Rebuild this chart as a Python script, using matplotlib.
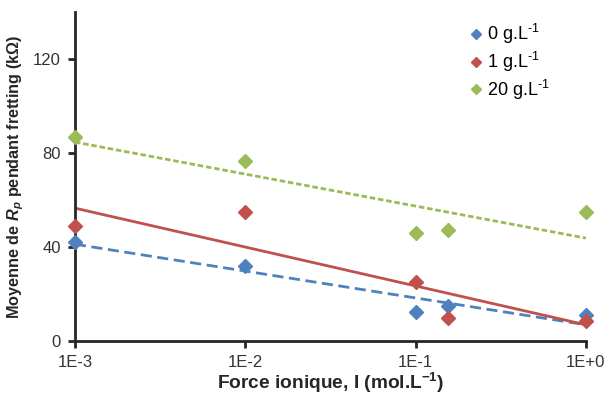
import numpy as np
import matplotlib
matplotlib.use('Agg')
import matplotlib.pyplot as plt

plt.rcParams['font.family'] = ['Liberation Sans', 'DejaVu Sans']
plt.rcParams['mathtext.fontset'] = 'custom'
plt.rcParams['mathtext.rm'] = 'Liberation Sans'
plt.rcParams['mathtext.it'] = 'Liberation Sans:italic:bold'
plt.rcParams['mathtext.bf'] = 'Liberation Sans:bold'

force = [1e-3, 1e-2, 1e-1, 0.156, 1.0]
rp_0 = [42, 32, 12.4, 15, 11]
rp_1 = [49, 54.7, 25, 10, 8.5]
rp_20 = [86.8, 76.5, 46, 47.4, 55]

series = [
    ('0 g.L$^{\\text{-1}}$', rp_0, '#4F81BD', (0, (4, 2))),
    ('1 g.L$^{\\text{-1}}$', rp_1, '#C0504D', '-'),
    ('20 g.L$^{\\text{-1}}$', rp_20, '#9BBB59', (0, (2, 1))),
]

fig = plt.figure(figsize=(6.09, 3.98), dpi=100)
ax = fig.add_axes([0.123, 0.143, 0.839, 0.827])

lx = np.log10(force)
xfit = np.array([1e-3, 1.0])
for label, y, color, ls in series:
    k, b = np.polyfit(lx, y, 1)
    ax.plot(xfit, k * np.log10(xfit) + b, color=color, linestyle=ls, lw=2, zorder=2)
for label, y, color, ls in series:
    ax.plot(force, y, 'D', color=color, ms=7, mec=color, label=label,
            zorder=3, clip_on=False)

ax.set_xscale('log')
ax.set_xlim(1e-3, 1.0)
ax.set_ylim(0, 140)
ax.set_xticks([1e-3, 1e-2, 1e-1, 1.0])
ax.set_xticklabels(['1E-3', '1E-2', '1E-1', '1E+0'])
ax.xaxis.set_minor_locator(matplotlib.ticker.NullLocator())
ax.set_yticks([0, 40, 80, 120])

for s in ['top', 'right']:
    ax.spines[s].set_visible(False)
for s in ['left', 'bottom']:
    ax.spines[s].set_linewidth(2)
    ax.spines[s].set_color('#262626')
ax.tick_params(direction='out', length=5, width=2, color='#262626',
               labelsize=12, labelcolor='#333333', pad=5)

ax.set_xlabel('Force ionique, I (mol.L$^{\\mathbf{-1}}$)', fontsize=13.8,
              fontweight='bold', color='#262626', labelpad=1)
ax.set_ylabel('Moyenne de $R_p$ pendant fretting (k\u03a9)', fontsize=11.7,
              fontweight='bold', color='#262626', labelpad=5)

leg = ax.legend(loc='upper left', bbox_to_anchor=(0.748, 0.985),
                bbox_transform=fig.transFigure, frameon=False, fontsize=13,
                handlelength=0.5, handletextpad=0.35, labelspacing=0.2,
                markerscale=0.8)

fig.savefig('out.png', dpi=100)
